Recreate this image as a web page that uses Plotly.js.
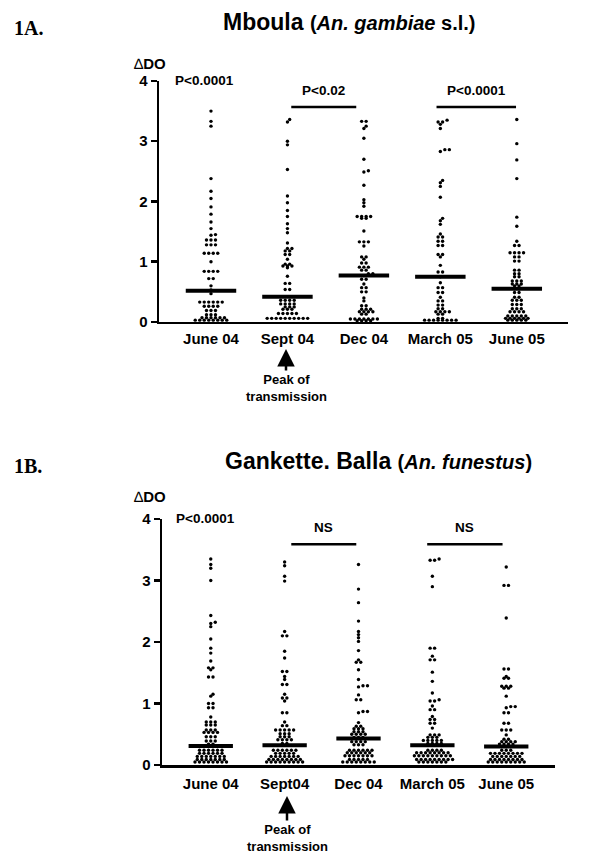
<!DOCTYPE html>
<html>
<head>
<meta charset="utf-8">
<script src="https://cdn.plot.ly/plotly-3.0.1.min.js"></script>
<style>
  body { margin: 0; background: white; }
  #chart { width: 600px; height: 866px; }
</style>
</head>
<body>
<div id="chart"></div>
<script>
// x categories
var monthsA = ["June 04", "Sept 04", "Dec 04", "March 05", "June 05"];
var monthsB = ["June 04", "Sept04", "Dec 04", "March 05", "June 05"];

// 1A. Mboula - delta DO per sampling
var aJun04 = [3.50, 3.33, 3.25, 2.38, 2.17, 2.05, 1.91, 1.79, 1.66, 1.55,
  1.45, 1.44, 1.36, 1.36, 1.36, 1.28, 1.28, 1.28, 1.14, 1.14, 1.14, 1.14, 1.00,
  0.84, 0.84, 0.84, 0.84, 0.72, 0.72, 0.60, 0.53, 0.47,
  0.33, 0.33, 0.33, 0.33, 0.33, 0.33, 0.26, 0.26, 0.26, 0.26, 0.19, 0.19, 0.19,
  0.12, 0.12, 0.12, 0.07, 0.07, 0.07, 0.07, 0.07, 0.07,
  0.03, 0.03, 0.03, 0.03, 0.03, 0.03, 0.03, 0.03];
var aSep04 = [3.36, 3.32, 3.00, 2.94, 2.53, 2.09, 1.98, 1.85, 1.75, 1.63, 1.55,
  1.48, 1.31, 1.22, 1.22, 1.18, 1.18, 1.12, 1.12, 1.04, 0.96, 0.96, 0.93, 0.93, 0.93, 0.90,
  0.76, 0.64, 0.64, 0.54, 0.54,
  0.36, 0.36, 0.36, 0.36, 0.30, 0.30, 0.30, 0.30, 0.25, 0.25, 0.25, 0.21, 0.21, 0.21,
  0.14, 0.14, 0.14, 0.14, 0.14,
  0.06, 0.06, 0.06, 0.06, 0.06, 0.06, 0.06, 0.06, 0.06, 0.06];
var aDec04 = [3.33, 3.33, 3.25, 3.21, 3.05, 2.70, 2.51, 2.49, 2.27, 2.03, 1.98, 1.92,
  1.75, 1.75, 1.75, 1.75, 1.72, 1.72,
  1.51, 1.33, 1.33, 1.33, 1.26, 1.08, 1.08, 1.04, 0.98, 0.98, 0.91, 0.91, 0.91,
  0.86, 0.86, 0.80, 0.80, 0.77, 0.71, 0.71, 0.63, 0.57, 0.57, 0.50, 0.50, 0.40, 0.35,
  0.27, 0.27, 0.21, 0.21, 0.21, 0.17, 0.17, 0.17, 0.17, 0.13, 0.13,
  0.05, 0.05, 0.05, 0.05, 0.05, 0.05, 0.05, 0.02, 0.02, 0.02, 0.02];
var aMar05 = [3.35, 3.32, 3.32, 3.28, 3.21, 2.86, 2.86, 2.83, 2.35, 2.31, 2.25, 2.07,
  1.72, 1.68, 1.62,
  1.46, 1.41, 1.41, 1.34, 1.34, 1.27, 1.27, 1.12, 1.12, 1.08, 0.94, 0.83, 0.83,
  0.75, 0.65, 0.57, 0.57, 0.49, 0.49, 0.41, 0.35, 0.35, 0.28, 0.28, 0.22, 0.22,
  0.17, 0.17, 0.17, 0.17, 0.13, 0.13, 0.06, 0.06,
  0.03, 0.03, 0.03, 0.03, 0.03, 0.03, 0.03, 0.03];
var aJun05 = [3.36, 2.96, 2.69, 2.38, 1.74, 1.59,
  1.34, 1.27, 1.27, 1.15, 1.15, 1.15, 1.15, 1.08, 1.08, 1.01, 1.01, 0.86, 0.86,
  0.80, 0.80, 0.75, 0.75, 0.68, 0.68, 0.68, 0.63, 0.63, 0.63, 0.60, 0.60, 0.55, 0.55,
  0.49, 0.49, 0.41, 0.41, 0.36, 0.36, 0.36, 0.29, 0.29, 0.29, 0.22, 0.22, 0.22,
  0.17, 0.17, 0.17, 0.17, 0.10, 0.10, 0.10, 0.10, 0.10,
  0.06, 0.06, 0.06, 0.06, 0.06, 0.06, 0.03, 0.03, 0.03, 0.03, 0.03];
var aMid = [0.52, 0.42, 0.77, 0.75, 0.55];

// 1B. Gankette. Balla
var bJun04 = [3.35, 3.26, 3.20, 3.00, 2.43, 2.32, 2.30, 2.25, 2.05, 1.90, 1.82, 1.69,
  1.58, 1.58, 1.55, 1.43, 1.43,
  1.15, 1.12, 1.00, 1.00, 0.93, 0.93, 0.78, 0.70, 0.70, 0.70, 0.65, 0.65, 0.65,
  0.57, 0.57, 0.57, 0.53, 0.53, 0.53, 0.53, 0.46, 0.46, 0.46, 0.39, 0.39, 0.39, 0.34, 0.34,
  0.24, 0.24, 0.24, 0.24, 0.24, 0.24, 0.19, 0.19, 0.19, 0.19, 0.19, 0.19,
  0.14, 0.14, 0.14, 0.14, 0.14, 0.14, 0.14, 0.09, 0.09, 0.09, 0.09, 0.09, 0.09, 0.09,
  0.05, 0.05, 0.05, 0.05, 0.05, 0.05, 0.05, 0.05];
var bSep04 = [3.30, 3.24, 3.07, 2.99, 2.17, 2.10, 2.10, 1.85, 1.74, 1.52, 1.52, 1.44, 1.39,
  1.31, 1.31, 1.15, 1.09, 1.09, 1.04, 0.85, 0.85, 0.70, 0.64, 0.64,
  0.57, 0.57, 0.57, 0.57, 0.57, 0.51, 0.51, 0.51, 0.46, 0.46, 0.46, 0.41, 0.41, 0.41, 0.41,
  0.35, 0.35, 0.24, 0.24, 0.24, 0.24, 0.24, 0.24, 0.19, 0.19, 0.19, 0.19, 0.19,
  0.14, 0.14, 0.14, 0.14, 0.14, 0.14, 0.14, 0.09, 0.09, 0.09, 0.09, 0.09, 0.09, 0.09, 0.09,
  0.05, 0.05, 0.05, 0.05, 0.05, 0.05, 0.05, 0.05, 0.05];
var bDec04 = [3.26, 2.86, 2.64, 2.34, 2.17, 2.12, 2.07, 2.01, 1.86, 1.71, 1.67, 1.67,
  1.55, 1.39, 1.29, 1.29, 1.27, 1.14, 1.06, 1.06, 0.87, 0.87, 0.85, 0.69, 0.63, 0.63,
  0.59, 0.59, 0.59, 0.54, 0.54, 0.54, 0.50, 0.50, 0.50, 0.50, 0.45, 0.45, 0.45,
  0.38, 0.38, 0.38, 0.38, 0.33, 0.33, 0.33, 0.24, 0.24, 0.24, 0.24, 0.24, 0.24,
  0.20, 0.20, 0.20, 0.20, 0.20, 0.20, 0.15, 0.15, 0.15, 0.15, 0.15, 0.15, 0.15,
  0.09, 0.09, 0.09, 0.09, 0.09, 0.05, 0.05, 0.05, 0.05, 0.05, 0.05, 0.05, 0.05];
var bMar05 = [3.35, 3.33, 3.33, 3.07, 2.90, 1.90, 1.90, 1.77, 1.71, 1.71, 1.51, 1.36,
  1.17, 1.06, 1.04, 1.04, 0.96, 0.90, 0.90, 0.79, 0.74, 0.74, 0.68, 0.68, 0.60,
  0.49, 0.49, 0.49, 0.45, 0.45, 0.45, 0.40, 0.40, 0.40, 0.40, 0.40, 0.35, 0.35, 0.35, 0.35,
  0.32, 0.32, 0.24, 0.24, 0.24, 0.24, 0.20, 0.20, 0.20, 0.20, 0.20, 0.20, 0.20, 0.20,
  0.15, 0.15, 0.15, 0.15, 0.15, 0.15, 0.15, 0.15, 0.15,
  0.09, 0.09, 0.09, 0.09, 0.09, 0.09, 0.09, 0.09, 0.09,
  0.05, 0.05, 0.05, 0.05, 0.05, 0.05, 0.05];
var bJun05 = [3.22, 2.92, 2.92, 2.39, 1.56, 1.56, 1.44, 1.41, 1.41, 1.28, 1.28, 1.28,
  1.25, 1.25, 1.12, 0.95, 0.95, 0.93, 0.85, 0.85, 0.68, 0.68, 0.57, 0.57, 0.57,
  0.49, 0.42, 0.42, 0.38, 0.38, 0.38, 0.38, 0.34, 0.34, 0.34, 0.34, 0.30, 0.30, 0.30,
  0.24, 0.24, 0.24, 0.19, 0.19, 0.19, 0.19, 0.19, 0.19, 0.19, 0.19,
  0.14, 0.14, 0.14, 0.14, 0.14, 0.14, 0.14, 0.09, 0.09, 0.09, 0.09, 0.09, 0.09, 0.09, 0.09,
  0.05, 0.05, 0.05, 0.05, 0.05, 0.05, 0.05, 0.05, 0.05];
var bMid = [0.31, 0.32, 0.43, 0.32, 0.30];

// significance bars: [from, to] in category units, bar level, label
var aSig = [[1.05, 1.9, 3.57, "P<0.02"], [2.95, 3.99, 3.57, "P<0.0001"]];
var bSig = [[1.09, 1.97, 3.59, "NS"], [2.93, 3.95, 3.59, "NS"]];

var FONT = "Liberation Sans, Arial, Helvetica, sans-serif";

// axis geometry (paper fractions)
var axA = {xd: [0.265, 0.9467], xr: [-0.68, 4.67], yd: [0.6282, 0.9065]};
var axB = {xd: [0.27, 0.925], xr: [-0.66, 4.66], yd: [0.1166, 0.4007]};

// prism-like column scatter: same values sit side by side in a row
function swarm(cols, ax) {
  var kx = (ax.xd[1] - ax.xd[0]) * 600 / (ax.xr[1] - ax.xr[0]);
  var ky = (ax.yd[1] - ax.yd[0]) * 866 / 4;
  var step = 4.5, dmin = 2.9;
  var xs = [], ys = [];
  cols.forEach(function (vals, i) {
    var rows = {};
    vals.forEach(function (v) {
      var k = v.toFixed(3);
      (rows[k] = rows[k] || []).push(v);
    });
    var keys = Object.keys(rows).sort(function (a, b) { return a - b; });
    var placed = [];
    keys.forEach(function (k) {
      var v = +k, n = rows[k].length, base = [];
      for (var j = 0; j < n; j++) base.push((j - (n - 1) / 2) * step);
      var shifts = [0, step / 2, -step / 2, step, -step, 1.5 * step, -1.5 * step];
      var best = 0;
      for (var s = 0; s < shifts.length; s++) {
        var ok = base.every(function (bx) {
          return placed.every(function (p) {
            return Math.hypot(p.x - (bx + shifts[s]), (p.y - v) * ky) >= dmin;
          });
        });
        if (ok) { best = shifts[s]; break; }
      }
      base.forEach(function (bx) {
        placed.push({x: bx + best, y: v});
        xs.push(i + (bx + best) / kx);
        ys.push(v);
      });
    });
  });
  return {x: xs, y: ys};
}

function midLines(mids, half) {
  var x = [], y = [];
  mids.forEach(function (m, i) {
    x.push(i - half, i + half, null);
    y.push(m, m, null);
  });
  return {x: x, y: y};
}

var swA = swarm([aJun04, aSep04, aDec04, aMar05, aJun05], axA);
var swB = swarm([bJun04, bSep04, bDec04, bMar05, bJun05], axB);
var mlA = midLines(aMid, 0.33);
var mlB = midLines(bMid, 0.30);

var data = [
  {x: swA.x, y: swA.y, xaxis: "x", yaxis: "y", type: "scatter", mode: "markers",
   marker: {size: 3.4, color: "black"}, cliponaxis: false, hoverinfo: "skip"},
  {x: mlA.x, y: mlA.y, xaxis: "x", yaxis: "y", type: "scatter", mode: "lines",
   line: {color: "black", width: 4}, cliponaxis: false, hoverinfo: "skip"},
  {x: swB.x, y: swB.y, xaxis: "x2", yaxis: "y2", type: "scatter", mode: "markers",
   marker: {size: 3.4, color: "black"}, cliponaxis: false, hoverinfo: "skip"},
  {x: mlB.x, y: mlB.y, xaxis: "x2", yaxis: "y2", type: "scatter", mode: "lines",
   line: {color: "black", width: 4}, cliponaxis: false, hoverinfo: "skip"}
];

function xAxis(ax, labels, anchor, standoff) {
  return {
    domain: ax.xd, range: ax.xr, anchor: anchor,
    tickmode: "array", tickvals: [0, 1, 2, 3, 4], ticktext: labels,
    ticks: "", showgrid: false, zeroline: false,
    showline: true, linecolor: "black", linewidth: 2.5,
    tickfont: {family: FONT, size: 15, weight: "bold", color: "black"},
    ticklabelstandoff: standoff, fixedrange: true
  };
}
function yAxis(ax, anchor) {
  return {
    domain: ax.yd, range: [0, 4], anchor: anchor,
    tickmode: "array", tickvals: [0, 1, 2, 3, 4],
    ticks: "outside", ticklen: 6, tickwidth: 2.5, tickcolor: "black",
    showgrid: false, zeroline: false,
    showline: true, linecolor: "black", linewidth: 2.5,
    tickfont: {family: FONT, size: 15, weight: "bold", color: "black"},
    fixedrange: true
  };
}

var shapes = [];
var annotations = [];
[[aSig, "x", "y"], [bSig, "x2", "y2"]].forEach(function (p) {
  p[0].forEach(function (s) {
    shapes.push({type: "line", xref: p[1], yref: p[2], x0: s[0], x1: s[1], y0: s[2], y1: s[2],
                 line: {color: "black", width: 2.5}});
    annotations.push({xref: p[1], yref: p[2], x: (s[0] + s[1]) / 2, y: s[2] + 0.27,
                      xanchor: "center", yanchor: "middle",
                      text: "<b>" + s[3] + "</b>", showarrow: false,
                      font: {family: FONT, size: 13.5, color: "black"}});
  });
});

function panelText(tag, tagY, title, titleX, titleY, dY, xr, yr, tipX, tipY, ay) {
  annotations.push(
    {xref: "paper", yref: "paper", x: 12 / 600, y: 1 - tagY / 866,
     xanchor: "left", yanchor: "middle",
     text: "<b>" + tag + "</b>", showarrow: false,
     font: {family: "Liberation Serif, Times New Roman, serif", size: 20, color: "black"}},
    {xref: "paper", yref: "paper", x: titleX / 600, y: 1 - titleY / 866,
     xanchor: "center", yanchor: "middle",
     text: title, showarrow: false, font: {family: FONT, size: 23, color: "black"}},
    {xref: "paper", yref: "paper", x: 132 / 600, y: 1 - dY / 866,
     xanchor: "left", yanchor: "middle",
     text: "\u2206<b>DO</b>", showarrow: false, font: {family: FONT, size: 15, color: "black"}},
    {xref: xr, yref: yr, x: -0.5, y: 4, xanchor: "left", yanchor: "middle",
     text: "<b>P<0.0001</b>", showarrow: false, font: {family: FONT, size: 13.5, color: "black"}},
    {xref: "paper", yref: "paper", x: tipX / 600, y: 1 - tipY / 866, ax: 0, ay: ay,
     xanchor: "center", yanchor: "middle",
     text: "<b>Peak of<br>transmission</b>", showarrow: true,
     arrowhead: 2, arrowsize: 1.4, arrowwidth: 2.5, arrowcolor: "black",
     font: {family: FONT, size: 13, color: "black"}}
  );
}
panelText("1A.", 28,
  "<b>Mboula <span style='font-size:20px'>(<i>An. gambiae</i> s.l.)</span></b>",
  349, 22, 63, "x", "y", 286, 349, 39);
panelText("1B.", 466,
  "<b>Gankette. Balla <span style='font-size:20px'>(<i>An. funestus</i>)</span></b>",
  378, 461, 497, "x2", "y2", 287, 796, 42);

var layout = {
  width: 600, height: 866,
  margin: {l: 0, r: 0, t: 0, b: 0},
  paper_bgcolor: "white", plot_bgcolor: "white",
  showlegend: false,
  font: {family: FONT, color: "black"},
  xaxis: xAxis(axA, monthsA, "y", 2),
  yaxis: yAxis(axA, "x"),
  xaxis2: xAxis(axB, monthsB, "y2", 3),
  yaxis2: yAxis(axB, "x2"),
  shapes: shapes,
  annotations: annotations
};

Plotly.newPlot("chart", data, layout, {displayModeBar: false, staticPlot: true});
</script>
</body>
</html>
